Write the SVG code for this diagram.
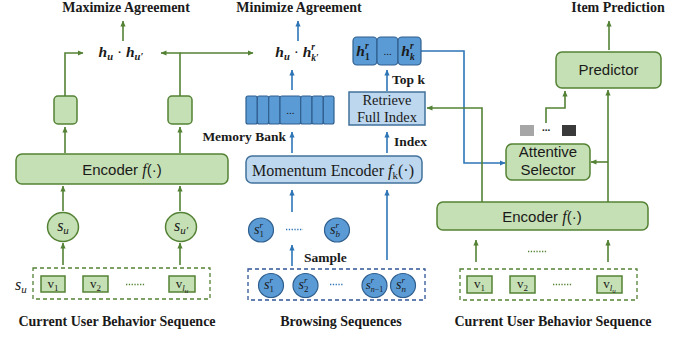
<svg xmlns="http://www.w3.org/2000/svg" width="694" height="339" viewBox="0 0 694 339">
<defs>
<style>
.title{font-family:"Liberation Serif",serif;font-weight:bold;font-size:14px;fill:#1a1a1a}
.lab{font-family:"Liberation Serif",serif;font-weight:bold;font-size:13.5px;fill:#1a1a1a}
.gl{fill:none;stroke:#548235;stroke-width:1.6}
.bl{fill:none;stroke:#2e75b6;stroke-width:1.6}
.gb{fill:#c5e0b4;stroke:#548235;stroke-width:1.5}
.lb{fill:#bdd7ee;stroke:#41719c;stroke-width:1.5}
.bc{fill:#5b9bd5;stroke:#2f5f8f;stroke-width:1.2}
.sans{font-family:"Liberation Sans",sans-serif;font-size:15px;fill:#1a1a1a}
.serif{font-family:"Liberation Serif",serif;fill:#1a1a1a}
.mi{font-family:"Liberation Serif",serif;font-style:italic;fill:#1a1a1a}
.mb{font-family:"Liberation Serif",serif;font-style:italic;font-weight:bold;fill:#1a1a1a}
.dg{fill:none;stroke:#548235;stroke-width:1.3;stroke-dasharray:4 3}
.db{fill:none;stroke:#2f5597;stroke-width:1.3;stroke-dasharray:4 3}
.gd{fill:none;stroke:#548235;stroke-width:1.3;stroke-dasharray:1.3 1.5}
.bd{fill:none;stroke:#2e75b6;stroke-width:1.3;stroke-dasharray:1.3 1.5}
</style>
<marker id="ag" viewBox="0 0 6 6" refX="5.5" refY="3" markerWidth="6" markerHeight="6" markerUnits="userSpaceOnUse" orient="auto"><path d="M0,0.4 L6,3 L0,5.6 z" fill="#548235"/></marker>
<marker id="ab" viewBox="0 0 6 6" refX="5.5" refY="3" markerWidth="6" markerHeight="6" markerUnits="userSpaceOnUse" orient="auto"><path d="M0,0.4 L6,3 L0,5.6 z" fill="#2e75b6"/></marker>
</defs>
<rect width="694" height="339" fill="#ffffff"/>

<!-- titles -->
<g id="titles">
<text class="title" x="126" y="12" text-anchor="middle">Maximize Agreement</text>
<text class="title" x="299" y="12" text-anchor="middle">Minimize Agreement</text>
<text class="title" x="618" y="12" text-anchor="middle">Item Prediction</text>
<text class="title" x="117" y="326" text-anchor="middle">Current User Behavior Sequence</text>
<text class="title" x="341" y="326" text-anchor="middle">Browsing Sequences</text>
<text class="title" x="553" y="326" text-anchor="middle">Current User Behavior Sequence</text>
<text class="lab" x="286" y="141" text-anchor="end">Memory Bank</text>
<text class="lab" x="392" y="84">Top k</text>
<text class="lab" x="394" y="146">Index</text>
<text class="lab" x="304" y="262">Sample</text>
</g>

<!-- connectors -->
<g id="connectors">
<path class="gl" d="M123,41 V21" marker-end="url(#ag)"/>
<path class="gl" d="M65,96 V53 H83" marker-end="url(#ag)"/>
<path class="gl" d="M180,96 V53 H161" marker-end="url(#ag)"/>
<path class="gl" d="M180,53 H253" marker-end="url(#ag)"/>
<path class="gl" d="M65,153 V127" marker-end="url(#ag)"/>
<path class="gl" d="M180,153 V127" marker-end="url(#ag)"/>
<path class="gl" d="M63,211 V186" marker-end="url(#ag)"/>
<path class="gl" d="M180,211 V186" marker-end="url(#ag)"/>
<path class="gl" d="M63,265 V243" marker-end="url(#ag)"/>
<path class="gl" d="M180,265 V243" marker-end="url(#ag)"/>

<path class="bl" d="M298,41 V21" marker-end="url(#ab)"/>
<path class="bl" d="M292,90 V70" marker-end="url(#ab)"/>
<path class="bl" d="M387,91 V70" marker-end="url(#ab)"/>
<path class="bl" d="M292,153 V132" marker-end="url(#ab)"/>
<path class="bl" d="M387,153 V132" marker-end="url(#ab)"/>
<path class="bl" d="M292,212 V190" marker-end="url(#ab)"/>
<path class="bl" d="M387,260 V190" marker-end="url(#ab)"/>
<path class="bl" d="M292,266 V245" marker-end="url(#ab)"/>
<path class="bl" d="M421,51 H464 V163 H505" marker-end="url(#ab)"/>

<path class="gl" d="M482,202 V108 H427" marker-end="url(#ag)"/>
<path class="gl" d="M608,202 V90" marker-end="url(#ag)"/>
<path class="gl" d="M608,162 H591" marker-end="url(#ag)"/>
<path class="gl" d="M546,123 V108 H565 V91" marker-end="url(#ag)"/>
<path class="gl" d="M609,50 V21" marker-end="url(#ag)"/>
<path class="gl" d="M476,262 V240" marker-end="url(#ag)"/>
<path class="gl" d="M608,262 V240" marker-end="url(#ag)"/>
</g>

<!-- formulas -->
<g id="formula-left">
<text class="mb" x="121" y="57" font-size="15.5" text-anchor="middle">h<tspan font-size="10.5" dy="3">u</tspan><tspan dy="-3" font-style="normal" font-weight="normal"> · </tspan>h<tspan font-size="10.5" dy="3">u′</tspan></text>
</g>
<g id="formula-mid">
<text class="mb" x="297" y="57" font-size="15.5" text-anchor="middle">h<tspan font-size="10.5" dy="3">u</tspan><tspan dy="-3" font-style="normal" font-weight="normal"> · </tspan>h<tspan font-size="9.5" dy="-7">r</tspan><tspan font-size="9.5" dx="-3.8" dy="11">k′</tspan></text>
</g>

<!-- left branch -->
<g id="left-box1"><rect class="gb" x="54" y="96" width="23" height="28" rx="4"/></g>
<g id="left-box2"><rect class="gb" x="168" y="96" width="24" height="28" rx="4"/></g>
<g id="encoder-left">
<rect class="gb" x="16" y="154" width="212" height="30" rx="6"/>
<text class="sans" x="122" y="175" text-anchor="middle">Encoder <tspan class="mi" font-size="16">f</tspan>(·)</text>
</g>
<g id="su">
<ellipse class="gb" cx="63" cy="227" rx="15.5" ry="14.5"/>
<text class="mi" x="63" y="231" font-size="16" text-anchor="middle">s<tspan font-size="11" dy="3">u</tspan></text>
</g>
<g id="su2">
<ellipse class="gb" cx="181" cy="227" rx="15.5" ry="14.5"/>
<text class="mi" x="181" y="231" font-size="16" text-anchor="middle">s<tspan font-size="11" dy="3">u′</tspan></text>
</g>
<g id="seq-left">
<text class="mi" x="15" y="290" font-size="16">s<tspan font-size="11" dy="3">u</tspan></text>
<rect class="dg" x="33" y="268" width="177" height="31"/>
<rect class="gb" x="41" y="276" width="24" height="16"/>
<text class="serif" x="53" y="288" font-size="13" text-anchor="middle">v<tspan font-size="9" dy="3">1</tspan></text>
<rect class="gb" x="83" y="276" width="25" height="16"/>
<text class="serif" x="95.5" y="288" font-size="13" text-anchor="middle">v<tspan font-size="9" dy="3">2</tspan></text>
<path class="gd" d="M126,284.5 H145"/>
<rect class="gb" x="169" y="276" width="26" height="16"/>
<text class="serif" x="182" y="288" font-size="13" text-anchor="middle">v<tspan class="mi" font-size="9" dy="3">l</tspan><tspan class="mi" font-size="7" dy="2">u</tspan></text>
</g>

<!-- middle branch -->
<g id="memory-bank">
<rect class="bc" x="246" y="96" width="11.3" height="28" rx="2"/>
<rect class="bc" x="257.3" y="96" width="11.4" height="28" rx="2"/>
<rect class="bc" x="268.7" y="96" width="11.3" height="28" rx="2"/>
<rect class="bc" x="280" y="96" width="20.7" height="28" rx="2"/>
<rect class="bc" x="300.7" y="96" width="11.3" height="28" rx="2"/>
<rect class="bc" x="312" y="96" width="11.3" height="28" rx="2"/>
<rect class="bc" x="323.3" y="96" width="10.7" height="28" rx="2"/>
<text class="serif" x="290.3" y="114" font-size="11" text-anchor="middle">...</text>
</g>
<g id="topk">
<rect class="bc" x="353" y="37" width="24" height="28" rx="4"/>
<rect class="bc" x="377" y="37" width="21" height="28" rx="4"/>
<rect class="bc" x="398" y="37" width="23" height="28" rx="4"/>
<text class="mb" x="363" y="56" font-size="15.5" text-anchor="middle">h<tspan font-size="9.5" dy="-7">r</tspan><tspan font-size="9.5" font-style="normal" dx="-3.8" dy="11">1</tspan></text>
<text class="serif" x="387.5" y="55" font-size="11" text-anchor="middle">...</text>
<text class="mb" x="408" y="56" font-size="15.5" text-anchor="middle">h<tspan font-size="9.5" dy="-7">r</tspan><tspan font-size="9.5" dx="-3.8" dy="11">k</tspan></text>
</g>
<g id="retrieve">
<rect class="lb" x="349" y="92" width="76" height="33"/>
<text class="serif" x="387" y="105" font-size="14.5" text-anchor="middle">Retrieve</text>
<text class="serif" x="387" y="122" font-size="14.5" text-anchor="middle">Full Index</text>
</g>
<g id="momentum-encoder">
<rect class="lb" x="246" y="156" width="176" height="27" rx="6"/>
<text class="serif" x="333" y="176" font-size="16" text-anchor="middle">Momentum Encoder <tspan font-style="italic">f</tspan><tspan font-size="11" dy="3">k</tspan><tspan dy="-3">(·)</tspan></text>
</g>
<g id="sampled">
<ellipse class="bc" cx="261" cy="230" rx="12.5" ry="12"/>
<text class="mi" x="259" y="234" font-size="14" text-anchor="middle">s<tspan font-size="9" dy="-6">r</tspan><tspan font-size="9" font-style="normal" dx="-3.5" dy="9">1</tspan></text>
<path class="bd" d="M286,229.5 H303"/>
<ellipse class="bc" cx="337" cy="230" rx="12.5" ry="12"/>
<text class="mi" x="335" y="234" font-size="14" text-anchor="middle">s<tspan font-size="9" dy="-6">r</tspan><tspan font-size="9" dx="-3.5" dy="9">b</tspan></text>
</g>
<g id="browsing">
<rect class="db" x="248" y="269" width="177" height="31"/>
<ellipse class="bc" cx="271" cy="285.5" rx="12.5" ry="12"/>
<text class="mi" x="269" y="289" font-size="14" text-anchor="middle">s<tspan font-size="9" dy="-6">r</tspan><tspan font-size="9" font-style="normal" dx="-3.5" dy="9">1</tspan></text>
<ellipse class="bc" cx="305.5" cy="285.5" rx="12.5" ry="12"/>
<text class="mi" x="303.5" y="289" font-size="14" text-anchor="middle">s<tspan font-size="9" dy="-6">r</tspan><tspan font-size="9" font-style="normal" dx="-3.5" dy="9">2</tspan></text>
<path class="bd" d="M330,284.5 H343"/>
<ellipse class="bc" cx="374.5" cy="285.5" rx="12.5" ry="12"/>
<text class="mi" x="374.5" y="289" font-size="13" text-anchor="middle">s<tspan font-size="8" dy="-6">r</tspan><tspan font-size="8" dx="-3" dy="9">n</tspan><tspan font-size="8" font-style="normal">−1</tspan></text>
<ellipse class="bc" cx="403" cy="285.5" rx="12.5" ry="12"/>
<text class="mi" x="401" y="289" font-size="14" text-anchor="middle">s<tspan font-size="9" dy="-6">r</tspan><tspan font-size="9" dx="-3.5" dy="9">n</tspan></text>
</g>

<!-- right branch -->
<g id="predictor">
<rect class="gb" x="556" y="52" width="105" height="36" rx="6"/>
<text class="sans" x="608.5" y="75" text-anchor="middle">Predictor</text>
</g>
<g id="tokens">
<rect x="520" y="125" width="14" height="11" fill="#a6a6a6"/>
<text class="serif" x="546" y="131" font-size="11" font-weight="bold" text-anchor="middle">...</text>
<rect x="562" y="125" width="14" height="11" fill="#3a3a3a"/>
</g>
<g id="attentive-selector">
<rect class="gb" x="506" y="144" width="84" height="36" rx="6"/>
<text class="sans" x="548" y="157" text-anchor="middle">Attentive</text>
<text class="sans" x="548" y="175" text-anchor="middle">Selector</text>
</g>
<g id="encoder-right">
<rect class="gb" x="437" y="202" width="211" height="28" rx="6"/>
<text class="sans" x="542" y="222" text-anchor="middle">Encoder <tspan class="mi" font-size="16">f</tspan>(·)</text>
</g>
<g id="seq-right">
<path class="gd" d="M528,251.5 H547"/>
<rect class="dg" x="460" y="269" width="177" height="31"/>
<rect class="gb" x="467" y="276" width="25" height="17"/>
<text class="serif" x="479.5" y="288" font-size="13" text-anchor="middle">v<tspan font-size="9" dy="3">1</tspan></text>
<rect class="gb" x="510" y="276" width="25" height="17"/>
<text class="serif" x="522.5" y="288" font-size="13" text-anchor="middle">v<tspan font-size="9" dy="3">2</tspan></text>
<path class="gd" d="M553,284.5 H572"/>
<rect class="gb" x="597" y="276" width="25" height="17"/>
<text class="serif" x="609.5" y="288" font-size="13" text-anchor="middle">v<tspan class="mi" font-size="9" dy="3">l</tspan><tspan class="mi" font-size="7" dy="2">u</tspan></text>
</g>
</svg>
